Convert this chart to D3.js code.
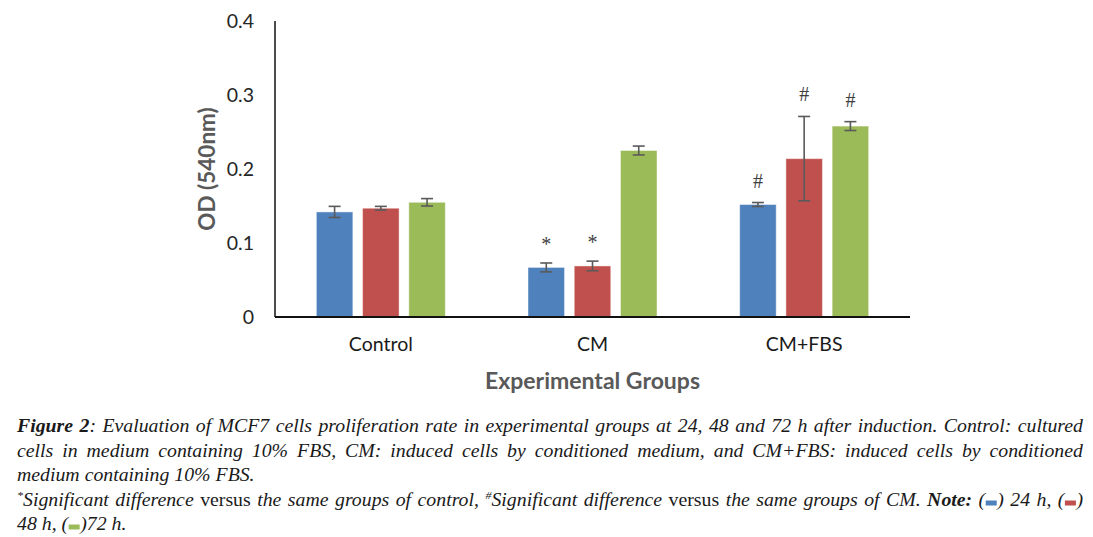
<!DOCTYPE html>
<html>
<head>
<meta charset="utf-8">
<script src="https://cdn.jsdelivr.net/npm/d3@7"></script>
<style>
  html, body { margin: 0; padding: 0; background: #fff; }
  svg { display: block; }
</style>
</head>
<body>
<svg id="chart" width="1093" height="537"></svg>
<script>
// ---------- data ----------
const categories = ["Control", "CM", "CM+FBS"];
const seriesNames = ["24 h", "48 h", "72 h"];
const values24 = [0.142, 0.067, 0.152];
const values48 = [0.147, 0.069, 0.214];
const values72 = [0.155, 0.225, 0.258];
const err24 = [0.0075, 0.006, 0.0027];
const err48 = [0.0025, 0.0065, 0.057];
const err72 = [0.005, 0.006, 0.006];
const marks24 = ["", "*", "#"];
const marks48 = ["", "*", "#"];
const marks72 = ["", "", "#"];
const yTicks = [0, 0.1, 0.2, 0.3, 0.4];
const yTickLabels = ["0", "0.1", "0.2", "0.3", "0.4"];
const seriesColors = ["#4F81BD", "#C0504D", "#9BBB59"];
const yTitle = "OD (540nm)";
const xTitle = "Experimental Groups";

const seriesValues = [values24, values48, values72];
const seriesErr = [err24, err48, err72];
const seriesMarks = [marks24, marks48, marks72];

const rows = [];
categories.forEach((c, ci) => {
  seriesNames.forEach((s, si) => {
    rows.push({cat: c, ser: s, si, v: seriesValues[si][ci], e: seriesErr[si][ci], m: seriesMarks[si][ci]});
  });
});

// ---------- layout ----------
const svg = d3.select("#chart");
const pL = 275, pR = 910, pT = 21, pB = 317;
const chartFont = "Lato, 'Open Sans', sans-serif";

const x = d3.scaleBand().domain(categories).range([pL, pR]).paddingInner(0).paddingOuter(0);
const groupSpan = 129;
const xs = d3.scaleBand().domain(seriesNames).range([0, groupSpan]).paddingInner(0.21).paddingOuter(0);
const y = d3.scaleLinear().domain([0, 0.4]).range([pB, pT]);

const groupStart = c => x(c) + x.bandwidth() / 2 - groupSpan / 2;

// y axis labels
const yAxis = d3.axisLeft(y).tickValues(yTicks).tickSize(0).tickPadding(21)
  .tickFormat((d, i) => yTickLabels[i]);
const gy = svg.append("g").attr("transform", `translate(${pL},0)`).call(yAxis);
gy.select(".domain").remove();
gy.selectAll("text").attr("font-family", chartFont).attr("font-size", 19.5).attr("fill", "#262626");

// x axis labels
const xAxis = d3.axisBottom(x).tickSize(0).tickPadding(20);
const gx = svg.append("g").attr("transform", `translate(0,${pB})`).call(xAxis);
gx.select(".domain").remove();
gx.selectAll("text").attr("font-family", chartFont).attr("font-size", 19.5).attr("fill", "#1a1a1a");

// bars
svg.append("g").selectAll("rect").data(rows).join("rect")
  .attr("x", d => groupStart(d.cat) + xs(d.ser))
  .attr("width", xs.bandwidth())
  .attr("y", d => y(d.v))
  .attr("height", d => y(0) - y(d.v))
  .attr("fill", d => seriesColors[d.si])
  .attr("stroke", "rgba(255,255,255,0.45)")
  .attr("stroke-width", 1);

// error bars
const eg = svg.append("g").attr("stroke", "#5a5a5a").attr("stroke-width", 1.6);
rows.forEach(d => {
  const cx = groupStart(d.cat) + xs(d.ser) + xs.bandwidth() / 2;
  const y1 = y(d.v + d.e), y2 = y(d.v - d.e);
  eg.append("line").attr("x1", cx).attr("x2", cx).attr("y1", y1).attr("y2", y2);
  eg.append("line").attr("x1", cx - 6).attr("x2", cx + 6).attr("y1", y1).attr("y2", y1);
  eg.append("line").attr("x1", cx - 6).attr("x2", cx + 6).attr("y1", y2).attr("y2", y2);
});

// significance marks
svg.append("g").selectAll("text").data(rows.filter(d => d.m)).join("text")
  .attr("x", d => groupStart(d.cat) + xs(d.ser) + xs.bandwidth() / 2)
  .attr("y", d => y(d.v + d.e) - (d.m === "*" ? 12 : 15))
  .attr("text-anchor", "middle")
  .attr("font-family", "'Liberation Serif', serif")
  .attr("font-size", 20)
  .attr("fill", "#404040")
  .text(d => d.m);

// axis lines
svg.append("line").attr("x1", pL).attr("x2", pL).attr("y1", pT).attr("y2", pB)
  .attr("stroke", "#111").attr("stroke-width", 1.5);
svg.append("line").attr("x1", pL).attr("x2", pR).attr("y1", pB).attr("y2", pB)
  .attr("stroke", "#111").attr("stroke-width", 2);

// axis titles
svg.append("text")
  .attr("transform", `translate(215,${(pT + pB) / 2}) rotate(-90)`)
  .attr("text-anchor", "middle")
  .attr("font-family", chartFont).attr("font-weight", "bold").attr("font-size", 22.5)
  .attr("fill", "#595959").text(yTitle);
svg.append("text")
  .attr("x", (pL + pR) / 2).attr("y", 389)
  .attr("text-anchor", "middle")
  .attr("font-family", chartFont).attr("font-weight", "bold").attr("font-size", 23)
  .attr("fill", "#595959").text(xTitle);

// ---------- caption ----------
const capFont = "'Liberation Serif', 'Times New Roman', serif";
const capSize = 18;
const capSX = 1.1;
const capLeft = 17, capRight = 1083;
const I = t => ({t, s: "i"}), B = t => ({t, s: "b"}), N = t => ({t, s: "n"}), S = t => ({t, s: "sup"});
const words = (str, f) => str.split(" ").map(w => [f(w)]);
const capLines = [
  {justify: true, y: 432, words: [[B("Figure")], [B("2"), I(":")], ...words("Evaluation of MCF7 cells proliferation rate in experimental groups at 24, 48 and 72 h after induction. Control: cultured", I)]},
  {justify: true, y: 457, words: words("cells in medium containing 10% FBS, CM: induced cells by conditioned medium, and CM+FBS: induced cells by conditioned", I)},
  {justify: false, y: 481, words: words("medium containing 10% FBS.", I)},
  {justify: true, y: 506, words: [
    [S("*"), I("Significant")], [I("difference")], [N("versus")], ...words("the same groups of control,", I),
    [S("#"), I("Significant")], [I("difference")], [N("versus")], ...words("the same groups of CM.", I),
    [B("Note:")], [I("("), {sw: seriesColors[0]}, I(")")], [I("24")], [I("h,")], [I("("), {sw: seriesColors[1]}, I(")")]
  ]},
  {justify: false, y: 530, words: [[I("48")], [I("h,")], [I("("), {sw: seriesColors[2]}, I(")72")], [I("h.")]]}
];

const cap = svg.append("g").attr("fill", "#1a1a1a");
function styleText(sel, s) {
  sel.attr("font-family", capFont)
    .attr("font-size", s === "sup" ? 11 : capSize)
    .attr("font-style", s === "n" ? "normal" : "italic")
    .attr("font-weight", s === "b" ? "bold" : "normal");
  return sel;
}
const swW = 11, swH = 5;
function partWidth(p) {
  if (p.sw) return swW + 1;
  const t = styleText(cap.append("text").text(p.t), p.s);
  const w = t.node().getComputedTextLength() * capSX;
  t.remove();
  return w;
}
const spaceW = partWidth({t: "\u00a0", s: "i"});
capLines.forEach(line => {
  const ww = line.words.map(w => w.map(partWidth));
  const totals = ww.map(a => d3.sum(a));
  const sumW = d3.sum(totals);
  const gaps = line.words.length - 1;
  const gap = line.justify ? (capRight - capLeft - sumW) / gaps : spaceW;
  let cx = capLeft;
  line.words.forEach((w, wi) => {
    let px = cx;
    w.forEach((p, pi) => {
      if (p.sw) {
        cap.append("rect").attr("x", px + 0.5).attr("y", line.y - swH - 0.5)
          .attr("width", swW).attr("height", swH).attr("fill", p.sw);
      } else {
        const ty = p.s === "sup" ? line.y - 7 : line.y;
        styleText(cap.append("text"), p.s)
          .attr("transform", `translate(${px},${ty}) scale(${capSX},1)`)
          .text(p.t);
      }
      px += ww[wi][pi];
    });
    cx += totals[wi] + gap;
  });
});
</script>
</body>
</html>
